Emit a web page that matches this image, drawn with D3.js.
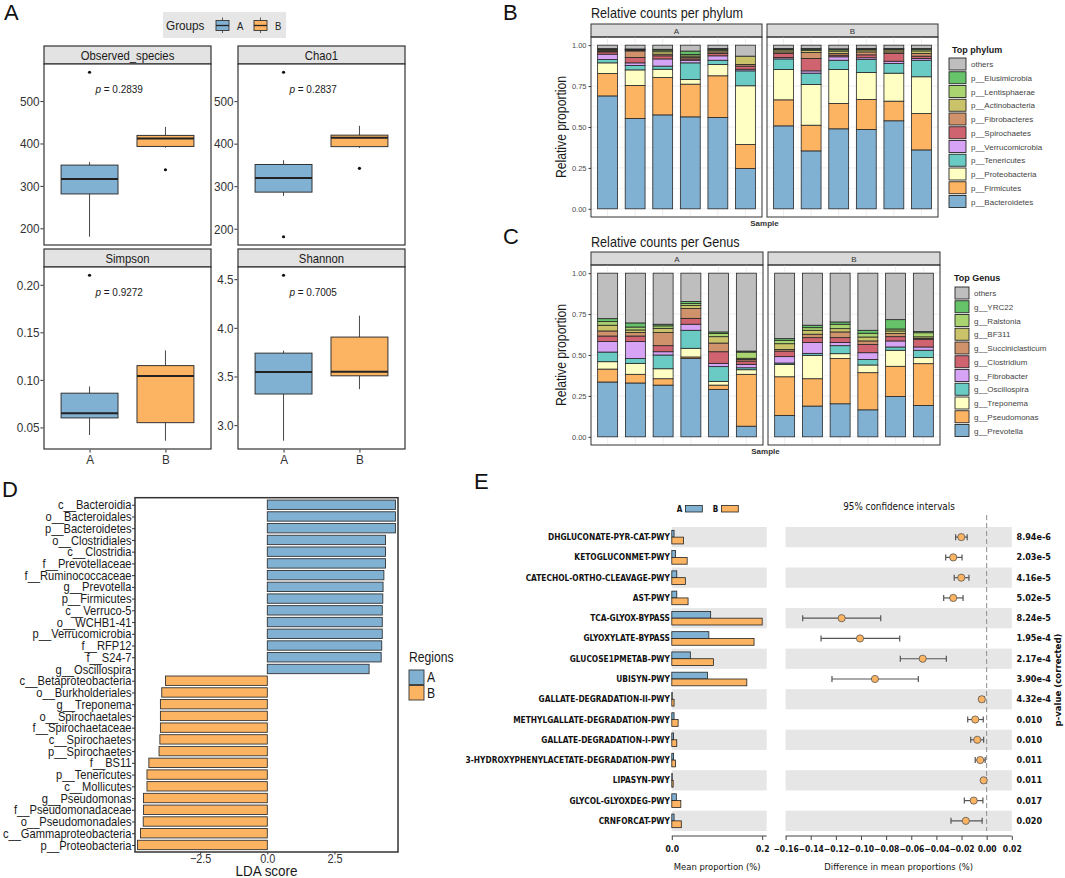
<!DOCTYPE html>
<html>
<head>
<meta charset="utf-8">
<script src="https://cdn.jsdelivr.net/npm/d3@7"></script>
<style>
body { margin: 0; background: #fff; }
svg { display: block; }
</style>
</head>
<body>
<svg id="fig" width="1065" height="878"></svg>
<script>
// ---------- A: alpha diversity ----------
const groups = ["A", "B"];
const alphaMetrics = ["Observed_species", "Chao1", "Simpson", "Shannon"];
const alphaP = ["0.2839", "0.2837", "0.9272", "0.7005"];
const alphaTicks = [[200, 300, 400, 500], [200, 300, 400, 500], [0.05, 0.10, 0.15, 0.20], [3.0, 3.5, 4.0, 4.5]];
// [lower whisker, q1, median, q3, upper whisker] for A and B
const observedBox = [[180, 281, 316, 349, 356], [390, 393, 412, 419, 439]];
const observedOut = [[568], [338]];
const chao1Box = [[277, 286, 319, 351, 361], [390, 393, 414, 420, 442]];
const chao1Out = [[181, 568], [342]];
const simpsonBox = [[0.042, 0.060, 0.065, 0.086, 0.093], [0.036, 0.055, 0.104, 0.115, 0.131]];
const simpsonOut = [[0.210], []];
const shannonBox = [[2.84, 3.32, 3.545, 3.74, 3.765], [3.37, 3.507, 3.55, 3.905, 4.125]];
const shannonOut = [[4.54], []];

// ---------- B: phylum ----------
const sampleIds = ["A1", "A2", "A3", "A4", "A5", "A6", "B1", "B2", "B3", "B4", "B5", "B6"];
const phylumNames = ["p__Bacteroidetes", "p__Firmicutes", "p__Proteobacteria", "p__Tenericutes", "p__Verrucomicrobia",
  "p__Spirochaetes", "p__Fibrobacteres", "p__Actinobacteria", "p__Lentisphaerae", "p__Elusimicrobia", "others"];
const phylumBacteroidetes = [.690, .552, .574, .562, .558, .246, .507, .354, .489, .485, .538, .360];
const phylumFirmicutes = [.137, .202, .228, .200, .255, .147, .159, .157, .155, .183, .120, .222];
const phylumProteobacteria = [.065, .095, .051, .028, .069, .359, .185, .249, .207, .165, .171, .225];
const phylumTenericutes = [.020, .027, .019, .102, .026, .091, .065, .069, .057, .079, .059, .101];
const phylumVerrucomicrobia = [.033, .016, .044, .016, .027, .010, .008, .014, .021, .011, .014, .011];
const phylumSpirochaetes = [.014, .033, .019, .008, .014, .019, .025, .076, .010, .018, .047, .014];
const phylumFibrobacteres = [.006, .040, .010, .010, .010, .010, .010, .036, .010, .018, .010, .016];
const phylumActinobacteria = [.006, .005, .015, .008, .010, .051, .012, .014, .015, .012, .012, .016];
const phylumLentisphaerae = [.004, .003, .010, .010, .006, .000, .005, .006, .008, .005, .005, .008];
const phylumElusimicrobia = [.004, .004, .005, .020, .005, .000, .004, .005, .006, .004, .004, .007];
const phylumOthers = [.021, .023, .025, .036, .020, .067, .020, .020, .022, .020, .020, .020];

// ---------- C: genus ----------
const genusNames = ["g__Prevotella", "g__Pseudomonas", "g__Treponema", "g__Oscillospira", "g__Fibrobacter",
  "g__Clostridium", "g__Succiniclasticum", "g__BF311", "g__Ralstonia", "g__YRC22", "others"];
const genusPrevotella = [.335, .329, .316, .478, .290, .065, .131, .188, .202, .165, .247, .192];
const genusPseudomonas = [.079, .053, .039, .010, .026, .317, .236, .167, .276, .227, .184, .255];
const genusTreponema = [.045, .067, .061, .053, .023, .028, .076, .143, .030, .047, .098, .037];
const genusOscillospira = [.059, .029, .084, .110, .090, .012, .008, .012, .049, .034, .020, .045];
const genusFibrobacter = [.064, .104, .020, .037, .020, .021, .039, .066, .019, .041, .037, .020];
const genusClostridium = [.034, .034, .037, .036, .071, .020, .034, .030, .030, .051, .026, .047];
const genusSucciniclasticum = [.031, .021, .080, .060, .053, .010, .010, .021, .035, .021, .019, .005];
const genusBF311 = [.035, .016, .026, .018, .039, .007, .035, .024, .020, .024, .016, .010];
const genusRalstonia = [.022, .018, .015, .012, .019, .038, .021, .016, .027, .023, .012, .025];
const genusYRC22 = [.018, .025, .010, .013, .010, .006, .010, .015, .014, .018, .057, .007];
const genusOthers = [.278, .304, .312, .173, .359, .476, .400, .318, .298, .349, .284, .357];

// ---------- D: LEfSe ----------
const ldaTaxa = ["c__Bacteroidia", "o__Bacteroidales", "p__Bacteroidetes", "o__Clostridiales", "c__Clostridia",
  "f__Prevotellaceae", "f__Ruminococcaceae", "g__Prevotella", "p__Firmicutes", "c__Verruco-5", "o__WCHB1-41",
  "p__Verrucomicrobia", "f__RFP12", "f__S24-7", "g__Oscillospira", "c__Betaproteobacteria", "o__Burkholderiales",
  "g__Treponema", "o__Spirochaetales", "f__Spirochaetaceae", "c__Spirochaetes", "p__Spirochaetes", "f__BS11",
  "p__Tenericutes", "c__Mollicutes", "g__Pseudomonas", "f__Pseudomonadaceae", "o__Pseudomonadales",
  "c__Gammaproteobacteria", "p__Proteobacteria"];
const ldaScores = [4.77, 4.77, 4.77, 4.40, 4.40, 4.40, 4.34, 4.31, 4.30, 4.28, 4.28, 4.28, 4.26, 4.24, 3.79,
  -3.79, -3.93, -3.98, -3.98, -3.98, -4.00, -4.03, -4.41, -4.48, -4.48, -4.61, -4.61, -4.62, -4.72, -4.83];
const ldaTicks = [-2.5, 0, 2.5];

// ---------- E: STAMP ----------
const pathways = ["DHGLUCONATE-PYR-CAT-PWY", "KETOGLUCONMET-PWY", "CATECHOL-ORTHO-CLEAVAGE-PWY", "AST-PWY",
  "TCA-GLYOX-BYPASS", "GLYOXYLATE-BYPASS", "GLUCOSE1PMETAB-PWY", "UBISYN-PWY", "GALLATE-DEGRADATION-II-PWY",
  "METHYLGALLATE-DEGRADATION-PWY", "GALLATE-DEGRADATION-I-PWY", "3-HYDROXYPHENYLACETATE-DEGRADATION-PWY",
  "LIPASYN-PWY", "GLYCOL-GLYOXDEG-PWY", "CRNFORCAT-PWY"];
const meanPropA = [0.005, 0.008, 0.011, 0.011, 0.086, 0.082, 0.041, 0.079, 0.001, 0.005, 0.004, 0.004, 0.001, 0.010, 0.005];
const meanPropB = [0.026, 0.034, 0.030, 0.036, 0.200, 0.182, 0.092, 0.166, 0.005, 0.014, 0.011, 0.008, 0.003, 0.020, 0.021];
const diffMean = [-0.0202, -0.0266, -0.0202, -0.0266, -0.1154, -0.1008, -0.0509, -0.0889, -0.0039, -0.0091, -0.0075, -0.0051, -0.0024, -0.0103, -0.0166];
const ciLow = [-0.0247, -0.0326, -0.0258, -0.0342, -0.1464, -0.1318, -0.0687, -0.1231, -0.0057, -0.0151, -0.0127, -0.0091, -0.0036, -0.0178, -0.0284];
const ciHigh = [-0.0155, -0.0196, -0.0141, -0.0188, -0.0843, -0.0692, -0.0321, -0.0544, -0.0018, -0.0027, -0.0024, -0.0012, -0.0006, -0.0030, -0.0036];
const pCorrected = ["8.94e-6", "2.03e-5", "4.16e-5", "5.02e-5", "8.24e-5", "1.95e-4", "2.17e-4", "3.90e-4", "4.32e-4",
  "0.010", "0.010", "0.011", "0.011", "0.017", "0.020"];
const meanTicks = [0, 0.2];
const diffTicks = [-0.16, -0.14, -0.12, -0.10, -0.08, -0.06, -0.04, -0.02, 0.00, 0.02];


const blue = "#80b1d3";
const orange = "#fdb462";
const stackColors = ["#80b1d3", "#fdb462", "#ffffc4", "#69cbc4", "#d7a3f5", "#cf6470", "#d0926b", "#cbc36a", "#a9d46f", "#66c36a", "#bebebe"];
const sans = '"Liberation Sans", Arial, sans-serif';
const stamp = '"DejaVu Sans Condensed", "DejaVu Sans", sans-serif';
const K = 0.87; // the R panels use a narrow face, squeeze Liberation Sans to match

let svg = d3.select("#fig");

// text squeezed horizontally (narrow font look)
function ntext(parent, x, y, str, size, extra) {
  return parent.append("text")
    .attr("transform", `translate(${x},${y}) ${extra || ""} scale(${K},1)`)
    .text(str).style("font-family", sans).style("font-size", size + "px").style("fill", "#1a1a1a");
}
function squeezeTicks(axisG, size, fill) {
  axisG.selectAll("text").attr("transform", `scale(${K},1)`)
    .style("font-family", sans).style("font-size", size + "px").style("fill", fill);
}

// panel letters
[["A", 4, 20], ["B", 503, 20], ["C", 503, 244], ["D", 2, 497], ["E", 474, 489]].forEach(function(d) {
  svg.append("text").attr("x", d[1]).attr("y", d[2]).text(d[0])
    .style("font-family", sans).style("font-size", "22px").style("fill", "#111");
});

// ================= A =================
function drawAlpha(k, cell, boxes, outs, fmt, showX) {
  let all = boxes.flat().concat(outs.flat());
  let ext = d3.extent(all);
  let pad = (ext[1] - ext[0]) * 0.05;
  let y = d3.scaleLinear().domain([ext[0] - pad, ext[1] + pad]).range([cell.bottom, cell.top]);
  let x = d3.scalePoint().domain(groups).range([cell.x0, cell.x1]).padding(0.6);
  let bw = x.step() * 0.75;

  // strip
  svg.append("rect").attr("x", cell.x0).attr("y", cell.strip).attr("width", cell.x1 - cell.x0)
    .attr("height", cell.top - cell.strip).attr("fill", "#e3e3e3").attr("stroke", "#333").attr("stroke-width", 1.2);
  ntext(svg, (cell.x0 + cell.x1) / 2, (cell.strip + cell.top) / 2 + 4.5, alphaMetrics[k], 13)
    .attr("text-anchor", "middle");
  svg.append("rect").attr("x", cell.x0).attr("y", cell.top).attr("width", cell.x1 - cell.x0)
    .attr("height", cell.bottom - cell.top).attr("fill", "#fff");

  let g = svg.append("g");
  groups.forEach(function(grp, i) {
    let s = boxes[i];
    let cx = x(grp);
    g.append("line").attr("x1", cx).attr("x2", cx).attr("y1", y(s[0])).attr("y2", y(s[4]))
      .attr("stroke", "#333").attr("stroke-width", 0.9);
    g.append("rect").attr("x", cx - bw / 2).attr("width", bw).attr("y", y(s[3])).attr("height", y(s[1]) - y(s[3]))
      .attr("fill", i == 0 ? blue : orange).attr("stroke", "#333").attr("stroke-width", 1);
    g.append("line").attr("x1", cx - bw / 2).attr("x2", cx + bw / 2).attr("y1", y(s[2])).attr("y2", y(s[2]))
      .attr("stroke", "#222").attr("stroke-width", 2);
    g.selectAll(null).data(outs[i]).enter().append("circle")
      .attr("cx", cx).attr("cy", d => y(d)).attr("r", 1.6).attr("fill", "#111");
  });

  // p value
  let pt = ntext(svg, cell.x0 + (cell.x1 - cell.x0) * 0.45, cell.top + 29, "", 11.5).attr("text-anchor", "middle");
  pt.append("tspan").style("font-style", "italic").text("p");
  pt.append("tspan").text(" = " + alphaP[k]);

  svg.append("rect").attr("x", cell.x0).attr("y", cell.top).attr("width", cell.x1 - cell.x0)
    .attr("height", cell.bottom - cell.top).attr("fill", "none").attr("stroke", "#333").attr("stroke-width", 1.2);

  let ay = svg.append("g").attr("transform", `translate(${cell.x0 - 0.6},0)`)
    .call(d3.axisLeft(y).tickValues(alphaTicks[k]).tickFormat(fmt).tickSize(3).tickPadding(1.5));
  ay.select(".domain").remove();
  ay.selectAll("line").attr("stroke", "#333");
  squeezeTicks(ay, 13.5, "#333");

  if (showX) {
    let ax = svg.append("g").attr("transform", `translate(0,${cell.bottom + 0.6})`)
      .call(d3.axisBottom(x).tickSize(3).tickPadding(2));
    ax.select(".domain").remove();
    ax.selectAll("line").attr("stroke", "#333");
    squeezeTicks(ax, 13.5, "#333");
  }
}

drawAlpha(0, {x0: 44, x1: 211, strip: 46, top: 64, bottom: 245}, observedBox, observedOut, d3.format("d"), false);
drawAlpha(1, {x0: 238, x1: 405, strip: 46, top: 64, bottom: 245}, chao1Box, chao1Out, d3.format("d"), false);
drawAlpha(2, {x0: 44, x1: 211, strip: 249, top: 267, bottom: 449}, simpsonBox, simpsonOut, d3.format(".2f"), true);
drawAlpha(3, {x0: 238, x1: 405, strip: 249, top: 267, bottom: 449}, shannonBox, shannonOut, d3.format(".1f"), true);

// legend of A
svg.append("rect").attr("x", 163).attr("y", 12).attr("width", 123).attr("height", 26).attr("fill", "#e6e6e6");
ntext(svg, 166, 30, "Groups", 13.5).style("fill", "#222");
groups.forEach(function(grp, i) {
  let kx = [216, 254][i];
  svg.append("line").attr("x1", kx + 6.5).attr("x2", kx + 6.5).attr("y1", 17.5).attr("y2", 33)
    .attr("stroke", "#333").attr("stroke-width", 0.8);
  svg.append("rect").attr("x", kx).attr("y", 20.5).attr("width", 13).attr("height", 10)
    .attr("fill", i == 0 ? blue : orange).attr("stroke", "#333").attr("stroke-width", 0.9);
  svg.append("line").attr("x1", kx).attr("x2", kx + 13).attr("y1", 25.5).attr("y2", 25.5)
    .attr("stroke", "#222").attr("stroke-width", 1.3);
  ntext(svg, kx + 21, 30, grp, 11).style("fill", "#222");
});

// ================= B & C =================
function drawStack(cfg) {
  let rows = sampleIds.map(function(s, i) {
    let r = {sample: s, group: s[0]};
    cfg.names.forEach((n, j) => r[n] = cfg.values[j][i]);
    return r;
  });
  let series = d3.stack().keys(cfg.names)(rows);
  let y = d3.scaleLinear().domain([-0.05, 1.05]).range([cfg.bottom, cfg.top]);
  let color = d3.scaleOrdinal().domain(cfg.names).range(stackColors);

  ntext(svg, cfg.facets[0][0], cfg.titleY, cfg.title, 14.5);

  groups.forEach(function(grp, gi) {
    let x0 = cfg.facets[gi][0], x1 = cfg.facets[gi][1];
    let ids = sampleIds.filter(s => s[0] === grp);
    let x = d3.scaleBand().domain(ids).range([x0, x1]).paddingInner(0.28).paddingOuter(0.24);

    svg.append("rect").attr("x", x0).attr("y", cfg.strip).attr("width", x1 - x0).attr("height", cfg.top - cfg.strip)
      .attr("fill", "#d9d9d9").attr("stroke", "#333").attr("stroke-width", 1);
    svg.append("text").attr("x", (x0 + x1) / 2).attr("y", (cfg.strip + cfg.top) / 2 + 3)
      .attr("text-anchor", "middle").text(grp)
      .style("font-family", sans).style("font-size", "8px").style("fill", "#333");

    // grid
    let grid = svg.append("g").attr("stroke", "#ececec");
    d3.range(0, 1.01, 0.125).forEach(function(v, j) {
      grid.append("line").attr("x1", x0).attr("x2", x1).attr("y1", y(v)).attr("y2", y(v))
        .attr("stroke-width", j % 2 ? 0.5 : 0.9);
    });
    ids.forEach(function(s) {
      grid.append("line").attr("x1", x(s) + x.bandwidth() / 2).attr("x2", x(s) + x.bandwidth() / 2)
        .attr("y1", cfg.top).attr("y2", cfg.bottom).attr("stroke-width", 0.9);
    });

    // bars
    svg.append("g").selectAll("g").data(series).enter().append("g")
      .attr("fill", d => color(d.key))
      .selectAll("rect").data(d => d.filter(e => e.data.group === grp)).enter().append("rect")
      .attr("x", d => x(d.data.sample)).attr("width", x.bandwidth())
      .attr("y", d => y(d[1])).attr("height", d => y(d[0]) - y(d[1]))
      .attr("stroke", "#262626").attr("stroke-width", 0.8);

    svg.append("rect").attr("x", x0).attr("y", cfg.top).attr("width", x1 - x0).attr("height", cfg.bottom - cfg.top)
      .attr("fill", "none").attr("stroke", "#333").attr("stroke-width", 1);
  });

  let ay = svg.append("g").attr("transform", `translate(${cfg.facets[0][0]},0)`)
    .call(d3.axisLeft(y).tickValues([0, 0.25, 0.5, 0.75, 1]).tickFormat(d3.format(".2f")).tickSize(2.5).tickPadding(2));
  ay.select(".domain").remove();
  ay.selectAll("line").attr("stroke", "#333");
  ay.selectAll("text").style("font-family", sans).style("font-size", "7.5px").style("fill", "#4d4d4d");

  ntext(svg, 566, (cfg.top + cfg.bottom) / 2, "Relative proportion", 14, "rotate(-90)").attr("text-anchor", "middle");
  svg.append("text").attr("x", (cfg.facets[0][0] + cfg.facets[1][1]) / 2).attr("y", cfg.bottom + 9)
    .attr("text-anchor", "middle").text("Sample")
    .style("font-family", sans).style("font-size", "8px").style("font-weight", "bold").style("fill", "#333");

  // legend (others on top)
  let lg = svg.append("g");
  lg.append("text").attr("x", cfg.legX).attr("y", cfg.legTitleY).text(cfg.legTitle)
    .style("font-family", sans).style("font-size", "9px").style("font-weight", "bold").style("fill", "#1a1a1a");
  cfg.names.slice().reverse().forEach(function(n, i) {
    let cy = cfg.legY0 + i * 13.75;
    lg.append("rect").attr("x", cfg.keyX).attr("y", cy - 6).attr("width", cfg.keyW).attr("height", 12)
      .attr("fill", color(n)).attr("stroke", "#262626").attr("stroke-width", 0.9);
    lg.append("text").attr("x", cfg.keyX + cfg.keyW + 5).attr("y", cy + 3).text(n)
      .style("font-family", sans).style("font-size", "8px").style("fill", "#444");
  });
}

drawStack({
  title: "Relative counts per phylum", titleY: 18, names: phylumNames,
  values: [phylumBacteroidetes, phylumFirmicutes, phylumProteobacteria, phylumTenericutes, phylumVerrucomicrobia,
    phylumSpirochaetes, phylumFibrobacteres, phylumActinobacteria, phylumLentisphaerae, phylumElusimicrobia, phylumOthers],
  facets: [[591, 762], [767, 938]], strip: 24, top: 37, bottom: 217,
  legTitle: "Top phylum", legX: 952, legTitleY: 53, legY0: 64, keyX: 949, keyW: 17
});
drawStack({
  title: "Relative counts per Genus", titleY: 247, names: genusNames,
  values: [genusPrevotella, genusPseudomonas, genusTreponema, genusOscillospira, genusFibrobacter, genusClostridium,
    genusSucciniclasticum, genusBF311, genusRalstonia, genusYRC22, genusOthers],
  facets: [[591, 763], [768, 940]], strip: 252, top: 265, bottom: 445,
  legTitle: "Top Genus", legX: 954, legTitleY: 281, legY0: 293, keyX: 955, keyW: 14
});

// ================= D =================
(function() {
  let left = 135, right = 398, top = 497.7, bottom = 852;
  let ext = d3.extent(ldaScores.concat([0]));
  let pad = (ext[1] - ext[0]) * 0.01;
  let x = d3.scaleLinear().domain([ext[0] - pad, ext[1] + pad]).range([left, right]);
  let y = d3.scalePoint().domain(ldaTaxa).range([top, bottom]).padding(0.6);
  let bh = y.step() * 0.8;

  svg.append("g").selectAll("rect").data(ldaTaxa).enter().append("rect")
    .attr("x", (d, i) => x(Math.min(0, ldaScores[i])))
    .attr("width", (d, i) => Math.abs(x(ldaScores[i]) - x(0)))
    .attr("y", d => y(d) - bh / 2).attr("height", bh)
    .attr("fill", (d, i) => ldaScores[i] > 0 ? blue : orange)
    .attr("stroke", "#333").attr("stroke-width", 0.9);

  svg.append("rect").attr("x", left).attr("y", top).attr("width", right - left).attr("height", bottom - top)
    .attr("fill", "none").attr("stroke", "#333").attr("stroke-width", 1.5);

  let ay = svg.append("g").attr("transform", `translate(${left},0)`).call(d3.axisLeft(y).tickSize(3).tickPadding(1));
  ay.select(".domain").remove();
  ay.selectAll("line").attr("stroke", "#333");
  squeezeTicks(ay, 12.8, "#1a1a1a");

  let ax = svg.append("g").attr("transform", `translate(0,${bottom})`)
    .call(d3.axisBottom(x).tickValues(ldaTicks).tickFormat(d => d3.format(".1f")(d).replace("-", "\u2212")).tickSize(2.5).tickPadding(0));
  ax.select(".domain").remove();
  ax.selectAll("line").attr("stroke", "#333");
  squeezeTicks(ax, 12.5, "#333");

  ntext(svg, (left + right) / 2, 876, "LDA score", 15.5).attr("text-anchor", "middle");

  // legend
  ntext(svg, 409, 662, "Regions", 14);
  groups.forEach(function(grp, i) {
    svg.append("rect").attr("x", 409).attr("y", 670 + i * 15.5).attr("width", 15).attr("height", 14.5)
      .attr("fill", i == 0 ? blue : orange).attr("stroke", "#333").attr("stroke-width", 0.9);
    ntext(svg, 427, 682 + i * 15.5, grp, 14);
  });
})();

// ================= E =================
(function() {
  let top = 527, bottom = 831;
  let y = d3.scalePoint().domain(pathways).range([top, bottom]).padding(0.5);
  let step = y.step();
  let xm = d3.scaleLinear().domain([0, 0.21]).range([671.8, 766.7]);
  let xd = d3.scaleLinear().domain([-0.16, 0.02]).range([785.6, 1011.8]);
  let bold = g => g.style("font-family", stamp).style("font-weight", "bold").style("fill", "#111");

  // alternating bands
  pathways.forEach(function(p, i) {
    if (i % 2 == 0) {
      svg.append("rect").attr("x", xm.range()[0]).attr("y", y(p) - step / 2).attr("width", xm.range()[1] - xm.range()[0])
        .attr("height", step).attr("fill", "#e6e6e6");
      svg.append("rect").attr("x", xd.range()[0]).attr("y", y(p) - step / 2).attr("width", xd.range()[1] - xd.range()[0])
        .attr("height", step).attr("fill", "#e6e6e6");
    }
  });

  // mean proportion bars
  let bh = 6.8;
  svg.append("g").selectAll("rect").data(pathways).enter().append("rect")
    .attr("x", xm(0)).attr("width", (d, i) => xm(meanPropA[i]) - xm(0))
    .attr("y", d => y(d) - bh).attr("height", bh)
    .attr("fill", blue).attr("stroke", "#222").attr("stroke-width", 0.8);
  svg.append("g").selectAll("rect").data(pathways).enter().append("rect")
    .attr("x", xm(0)).attr("width", (d, i) => xm(meanPropB[i]) - xm(0))
    .attr("y", d => y(d)).attr("height", bh)
    .attr("fill", orange).attr("stroke", "#222").attr("stroke-width", 0.8);

  // zero line
  svg.append("line").attr("x1", xd(0)).attr("x2", xd(0)).attr("y1", 515).attr("y2", bottom)
    .attr("stroke", "#8c8c8c").attr("stroke-width", 1).attr("stroke-dasharray", "5,3");

  // CI
  let ci = svg.append("g").attr("stroke", "#555").attr("stroke-width", 1.2);
  pathways.forEach(function(p, i) {
    ci.append("line").attr("x1", xd(ciLow[i])).attr("x2", xd(ciHigh[i])).attr("y1", y(p)).attr("y2", y(p));
    ci.append("line").attr("x1", xd(ciLow[i])).attr("x2", xd(ciLow[i])).attr("y1", y(p) - 3).attr("y2", y(p) + 3);
    ci.append("line").attr("x1", xd(ciHigh[i])).attr("x2", xd(ciHigh[i])).attr("y1", y(p) - 3).attr("y2", y(p) + 3);
  });
  svg.append("g").selectAll("circle").data(pathways).enter().append("circle")
    .attr("cx", (d, i) => xd(diffMean[i])).attr("cy", d => y(d)).attr("r", 3.6)
    .attr("fill", orange).attr("stroke", "#555").attr("stroke-width", 0.8);

  // labels
  svg.append("g").selectAll("text").data(pathways).enter().append("text")
    .attr("x", 670).attr("y", d => y(d) + 3).attr("text-anchor", "end").text(d => d)
    .call(bold).style("font-size", "8.3px");
  svg.append("g").selectAll("text").data(pCorrected).enter().append("text")
    .attr("x", 1016.5).attr("y", (d, i) => y(pathways[i]) + 3).text(d => d)
    .call(bold).style("font-size", "9px");

  // axes
  let am = svg.append("g").attr("transform", `translate(0,836)`)
    .call(d3.axisBottom(xm).tickValues(meanTicks).tickFormat(d3.format(".1f")).tickSize(4).tickPadding(6));
  am.select(".domain").attr("stroke", "#444").attr("d", `M${xm(0)},0H${xm.range()[1]}`);
  am.selectAll("line").attr("stroke", "#444");
  am.selectAll("text").call(bold).style("font-size", "8.5px");
  let ad = svg.append("g").attr("transform", `translate(0,836)`)
    .call(d3.axisBottom(xd).tickValues(diffTicks).tickFormat(d => d3.format(".2f")(d).replace("-", "\u2212")).tickSize(4).tickPadding(6));
  ad.select(".domain").attr("stroke", "#444").attr("d", `M${xd.range()[0]},0H${xd.range()[1]}`);
  ad.selectAll("line").attr("stroke", "#444");
  ad.selectAll("text").call(bold).style("font-size", "8.5px");

  let plain = g => g.style("font-family", stamp).style("fill", "#111").style("font-size", "9.4px");
  svg.append("text").attr("x", (xm.range()[0] + xm.range()[1]) / 2 - 2).attr("y", 870).attr("text-anchor", "middle")
    .text("Mean proportion (%)").call(plain);
  svg.append("text").attr("x", (xd.range()[0] + xd.range()[1]) / 2).attr("y", 870).attr("text-anchor", "middle")
    .text("Difference in mean proportions (%)").call(plain);
  svg.append("text").attr("x", 899).attr("y", 510).attr("text-anchor", "middle")
    .text("95% confidence intervals").call(plain).style("font-size", "9.8px");
  svg.append("text").attr("transform", "translate(1061,680) rotate(-90)").attr("text-anchor", "middle")
    .text("p-value (corrected)").call(bold).style("font-size", "9.5px");

  // legend
  groups.forEach(function(grp, i) {
    let lx = [676.8, 712.8][i];
    svg.append("text").attr("x", lx).attr("y", 512).text(grp).call(bold).style("font-size", "8px");
    svg.append("rect").attr("x", lx + 8.7).attr("y", 505.5).attr("width", 16.8).attr("height", 6.5)
      .attr("fill", i == 0 ? blue : orange).attr("stroke", "#222").attr("stroke-width", 0.8);
  });
})();
</script>
</body>
</html>
